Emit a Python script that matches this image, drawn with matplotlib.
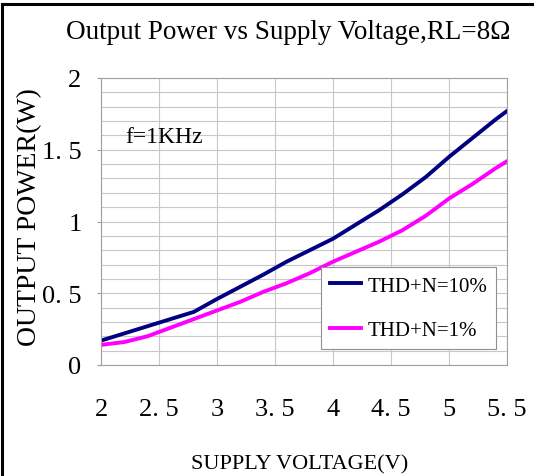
import matplotlib
matplotlib.use("Agg")
import matplotlib.pyplot as plt
from matplotlib.lines import Line2D

# supply voltage (V)
voltage = [2.0, 2.2, 2.4, 2.6, 2.8, 3.0, 3.2, 3.4, 3.6, 3.8, 4.0,
           4.2, 4.4, 4.6, 4.8, 5.0, 5.2, 5.4, 5.5]
# output power (W) at THD+N = 10%
power_10 = [0.17, 0.22, 0.27, 0.32, 0.37, 0.46, 0.545, 0.63, 0.72, 0.80, 0.88,
            0.98, 1.08, 1.19, 1.31, 1.45, 1.58, 1.71, 1.77]
# output power (W) at THD+N = 1%
power_1 = [0.14, 0.16, 0.20, 0.26, 0.32, 0.38, 0.44, 0.51, 0.57, 0.64, 0.72,
           0.79, 0.86, 0.94, 1.04, 1.16, 1.26, 1.37, 1.42]

xticks = [2, 2.5, 3, 3.5, 4, 4.5, 5, 5.5]
xtick_labels = ["2", "2. 5", "3", "3. 5", "4", "4. 5", "5", "5. 5"]
yticks = [0, 0.5, 1, 1.5, 2]
ytick_labels = ["0", "0. 5", "1", "1. 5", "2"]

serif = ["Liberation Serif", "DejaVu Serif"]

fig = plt.figure(figsize=(5.34, 4.77), dpi=100)
ax = fig.add_axes([101 / 534, 111 / 477, 406 / 534, 287 / 477])

ax.plot(voltage, power_10, color="#000080", lw=2.8, label="THD+N=10%")
ax.plot(voltage, power_1, color="#ff00ff", lw=2.8, label="THD+N=1%")

ax.set_xlim(2, 5.5)
ax.set_ylim(0, 2)
ax.set_xticks(xticks)
ax.set_xticklabels(xtick_labels, family=serif, fontsize=19)
ax.set_yticks(yticks)
ax.set_yticklabels(ytick_labels, family=serif, fontsize=19)
ax.set_yticks([i / 10 for i in range(21)], minor=True)
ax.tick_params(axis="x", length=0, pad=24)
ax.tick_params(axis="y", which="major", length=3, color="#999999", pad=11)
ax.tick_params(axis="y", which="minor", length=0)
ax.grid(True, which="major", axis="x", color="#c8c8c8", lw=0.8)
ax.grid(True, which="both", axis="y", color="#c8c8c8", lw=0.8)
for s in ax.spines.values():
    s.set_color("#a0a0a0")
    s.set_linewidth(0.8)

ax.set_xlabel("SUPPLY VOLTAGE(V)", family=serif, fontsize=16)
ax.xaxis.set_label_coords(0.49, -0.31)
ax.set_ylabel("OUTPUT POWER(W)", family=serif, fontsize=20)
ax.yaxis.set_label_coords(-0.145, 0.52)

ax.text(0.059, 0.777, "f=1KHz", transform=ax.transAxes, family=serif,
        fontsize=17, va="baseline")

leg = ax.legend(loc="lower right", bbox_to_anchor=(0.973, 0.056),
                prop={"family": serif, "size": 15}, frameon=True, fancybox=False,
                edgecolor="#909090", framealpha=1, handlelength=1.5,
                handletextpad=0.3, labelspacing=1.2, borderpad=0.42,
                borderaxespad=0)
leg.get_frame().set_linewidth(0.8)

fig.text(288 / 534, 438 / 477, "Output Power vs Supply Voltage,RL=8\u03a9",
         family=serif, fontsize=19.5, ha="center", va="baseline")

# black frame on the top and left edges
fig.add_artist(Line2D([2 / 534, 1], [472 / 477, 472 / 477], color="black", lw=2.2,
                      transform=fig.transFigure))
fig.add_artist(Line2D([2 / 534, 2 / 534], [0, 472 / 477], color="black", lw=2.2,
                      transform=fig.transFigure))

fig.savefig("out.png", dpi=100)
